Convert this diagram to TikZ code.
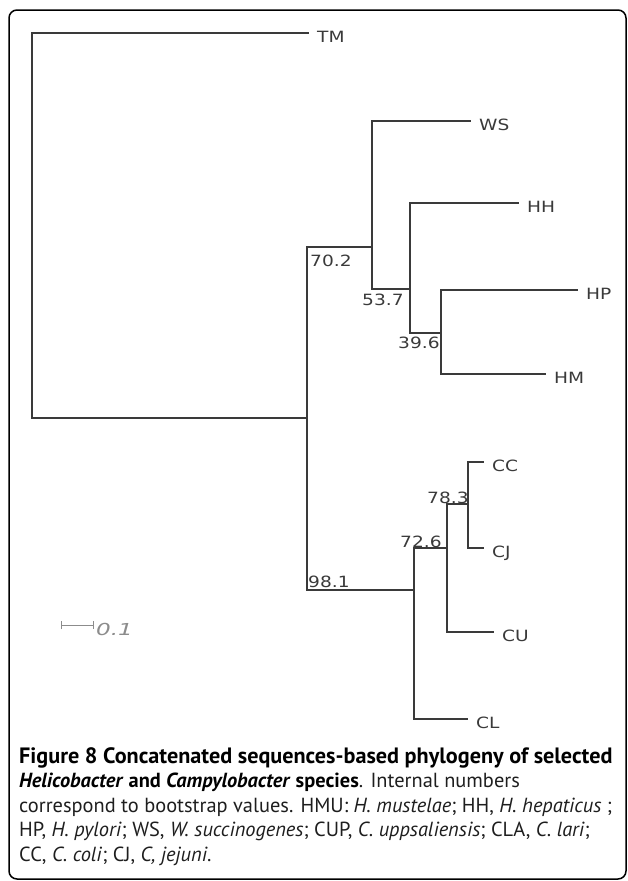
\documentclass[tikz,border=0pt]{standalone}
\usepackage{fontspec}
\setmainfont{PT Sans}
\newfontfamily\treefont[FakeStretch=1.2]{DejaVu Sans}
\newfontfamily\barfont[FakeStretch=1.4]{DejaVu Sans}
\usetikzlibrary{arrows.meta}
\definecolor{treegray}{HTML}{3A3A3A}
\definecolor{bargray}{HTML}{8C8C8C}
\definecolor{captext}{HTML}{1E1E1E}
\begin{document}
\begin{tikzpicture}[x=1pt,y=-1pt,
  branch/.style={draw=treegray,line width=1.4pt,line cap=rect},
  leaf/.style={anchor=base west,inner sep=0pt,font=\treefont\fontsize{15.5}{15.5}\selectfont,text=treegray,xshift=9pt,yshift=-9pt},
  boot/.style={anchor=base west,inner sep=0pt,font=\treefont\fontsize{15.5}{15.5}\selectfont,text=treegray},
  capline/.style={anchor=base west,inner sep=0pt,text=captext,font=\fontsize{20.4}{24}\selectfont}]
\useasboundingbox (0,0) rectangle (627,881);
\draw[line width=1.5pt,rounded corners=8pt] (9,10) rectangle (626,879);
% tree coordinates
\coordinate (root) at (32,418);
\coordinate (nI) at (307,418);
\coordinate (n70) at (372,247);
\coordinate (n53) at (410,289);
\coordinate (n39) at (441,333);
\coordinate (n98) at (414,590);
\coordinate (n72) at (447,548);
\coordinate (n78) at (468,504);
\coordinate (tTM) at (308,33);
\coordinate (tWS) at (470,121);
\coordinate (tHH) at (518,203);
\coordinate (tHP) at (577,290);
\coordinate (tHM) at (545,374);
\coordinate (tCC) at (483,462);
\coordinate (tCJ) at (483,548);
\coordinate (tCU) at (493,632);
\coordinate (tCL) at (467,719);
% branches
\draw[branch] (root) |- (tTM);
\draw[branch] (root) |- (nI);
\draw[branch] (nI) |- (n70);
\draw[branch] (nI) |- (n98);
\draw[branch] (n70) |- (tWS);
\draw[branch] (n70) |- (n53);
\draw[branch] (n53) |- (tHH);
\draw[branch] (n53) |- (n39);
\draw[branch] (n39) |- (tHP);
\draw[branch] (n39) |- (tHM);
\draw[branch] (n98) |- (n72);
\draw[branch] (n98) |- (tCL);
\draw[branch] (n72) |- (n78);
\draw[branch] (n72) |- (tCU);
\draw[branch] (n78) |- (tCC);
\draw[branch] (n78) |- (tCJ);
% leaf labels
\node[leaf] (TM) at (tTM) {TM};
\node[leaf] (WS) at (tWS) {WS};
\node[leaf] (HH) at (tHH) {HH};
\node[leaf] (HP) at (tHP) {HP};
\node[leaf] (HM) at (tHM) {HM};
\node[leaf] (CC) at (tCC) {CC};
\node[leaf] (CJ) at (tCJ) {CJ};
\node[leaf] (CU) at (tCU) {CU};
\node[leaf] (CL) at (tCL) {CL};
% bootstrap values
\node[boot] (b70) at (310,266) {70.2};
\node[boot] (b53) at (362,305) {53.7};
\node[boot] (b39) at (398,348) {39.6};
\node[boot] (b98) at (308,587) {98.1};
\node[boot] (b72) at (400,547) {72.6};
\node[boot] (b78) at (427,503) {78.3};
% scale bar
\coordinate (sb1) at (61,625);
\coordinate (sb2) at (94,625);
\draw[draw=bargray,line width=1pt,{Bar[width=8pt]}-{Bar[width=8pt]}] (sb1) -- (sb2);
\node[anchor=base west,inner sep=0pt,text=bargray,font=\barfont\itshape\fontsize{16.5}{16.5}\selectfont] (sbl) at (96,635) {0.1};
% caption
\node[capline,font=\fontsize{22.2}{24}\selectfont] (cap1) at (19,763) {\textbf{\color{black}Figure 8 Concatenated sequences-based phylogeny of selected}};
\node[capline] (cap2) at (19,787.5) {\textbf{\color{black}\textit{Helicobacter} and \textit{Campylobacter} species}. Internal numbers};
\node[capline] (cap3) at (19,812) {correspond to bootstrap values. HMU: \textit{H. mustelae}; HH, \textit{H. hepaticus} ;};
\node[capline] (cap4) at (19,836.5) {HP, \textit{H. pylori}; WS, \textit{W. succinogenes}; CUP, \textit{C. uppsaliensis}; CLA, \textit{C. lari};};
\node[capline] (cap5) at (19,861) {CC, \textit{C. coli}; CJ, \textit{C, jejuni}.};
\end{tikzpicture}
\end{document}
